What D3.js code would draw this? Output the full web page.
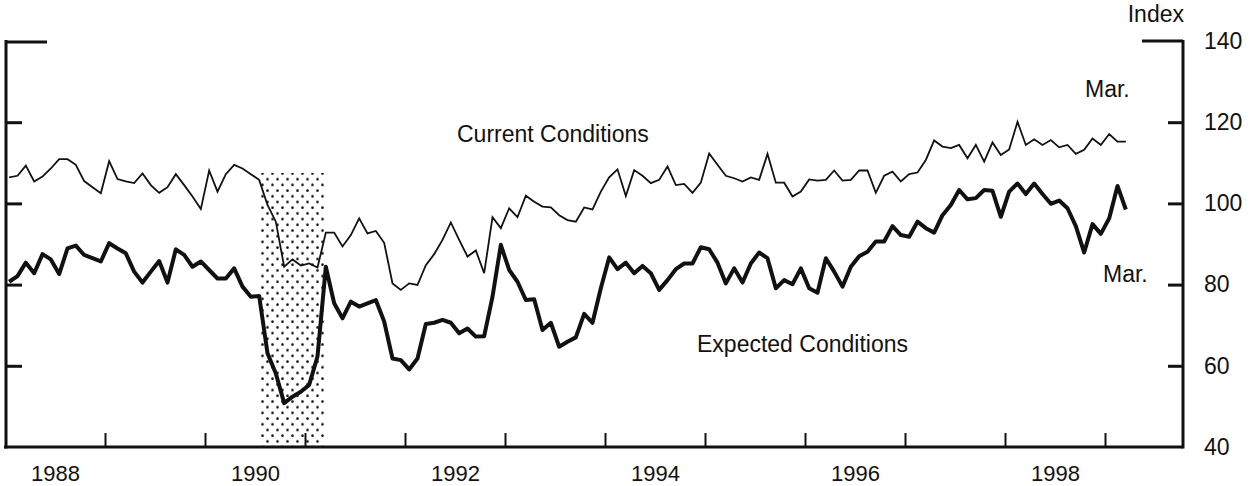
<!DOCTYPE html>
<meta charset="utf-8">

<script src="https://d3js.org/d3.v7.min.js"></script>

<style type="text/css">

body {
  margin: 0;
  background: white;
}

text {
  font-family: "Liberation Sans", Arial, Helvetica, sans-serif;
  fill: #111;
}

.axis path {
  display: none;
}

.axis line {
  stroke: #111;
  stroke-width: 3px;
}

.axis text {
  font-size: 23px;
}

.yearLabels text {
  font-size: 22px;
}

.frame {
  stroke: #111;
  stroke-width: 3px;
  fill: none;
}

.seriesLabel {
  font-size: 23px;
}

</style>

<body>
  <div id="chart"></div>
</body>

<script>

  // ---------------------------//
  //            DATA            //
  // ---------------------------//

  // monthly, Jan 1988 .. Mar 1999
  const startYear = 1988
  const currentValues = [
    106.4, 106.8, 109.3, 105.4, 106.6, 108.6, 110.9, 110.9, 109.5, 105.5, 104.0, 102.5,
    110.4, 106.0, 105.4, 105.0, 107.4, 104.5, 102.6, 104.0, 107.2, 104.5, 101.7, 98.6,
    108.1, 102.9, 107.2, 109.5, 108.6, 107.2, 105.8, 99.6, 95.5, 84.4, 86.2, 84.7,
    85.2, 84.2, 92.8, 92.8, 89.4, 92.2, 96.3, 92.6, 93.2, 90.3, 80.3, 78.7,
    80.3, 79.9, 84.8, 87.5, 91.0, 95.3, 91.0, 86.9, 88.4, 82.8, 96.6, 93.9,
    98.8, 96.6, 101.9, 100.4, 99.2, 99.0, 97.1, 95.9, 95.5, 99.0, 98.5, 102.9,
    106.4, 108.4, 101.8, 108.2, 106.8, 105.0, 105.8, 109.1, 104.5, 104.8, 102.6, 105.1,
    112.3, 109.5, 106.8, 106.2, 105.4, 106.4, 105.8, 112.2, 105.1, 105.1, 101.7, 102.9,
    105.9, 105.6, 105.8, 108.1, 105.6, 105.8, 108.1, 108.1, 102.6, 106.8, 107.8, 105.4,
    107.2, 107.6, 110.7, 115.5, 114.0, 113.6, 114.4, 111.1, 114.4, 110.3, 115.0, 111.9,
    113.3, 120.1, 114.4, 115.8, 114.4, 115.6, 113.8, 114.4, 112.2, 113.2, 116.0, 114.4,
    117.1, 115.2, 115.2
  ]
  const expectedValues = [
    80.7, 82.1, 85.4, 82.8, 87.5, 86.2, 82.6, 88.9, 89.6, 87.3, 86.5, 85.7,
    90.2, 88.9, 87.7, 83.2, 80.5, 83.2, 85.8, 80.5, 88.7, 87.3, 84.4, 85.7,
    83.6, 81.5, 81.5, 84.0, 79.5, 77.0, 77.2, 63.1, 58.1, 50.8, 52.4, 53.6,
    55.3, 62.3, 84.4, 75.4, 71.7, 75.8, 74.6, 75.4, 76.2, 70.9, 61.8, 61.4,
    59.1, 61.8, 70.3, 70.6, 71.3, 70.6, 68.0, 69.2, 67.2, 67.3, 77.0, 89.8,
    83.6, 80.7, 76.2, 76.4, 68.8, 70.6, 64.7, 65.9, 67.0, 72.8, 70.6, 79.1,
    86.7, 83.8, 85.4, 82.8, 84.6, 82.8, 78.7, 81.1, 83.8, 85.2, 85.2, 89.2,
    88.7, 85.4, 80.3, 84.0, 80.5, 85.2, 87.9, 86.5, 79.1, 81.1, 80.1, 84.0,
    79.1, 78.0, 86.5, 83.2, 79.5, 84.4, 87.0, 88.1, 90.6, 90.6, 94.4, 92.2,
    91.8, 95.5, 93.9, 92.8, 97.1, 99.6, 103.3, 101.0, 101.3, 103.3, 103.1, 96.7,
    102.9, 104.9, 102.3, 104.9, 102.3, 99.9, 100.7, 98.8, 94.4, 87.9, 94.9, 92.5,
    96.3, 104.3, 98.5
  ]

  // recession: Jul 1990 .. Mar 1991 (month index from Jan 1988)
  const recessionMonths = [30, 38]
  const recessionTop = 107.5

  const yearTicks = [1989, 1990, 1991, 1992, 1993, 1994, 1995, 1996, 1997, 1998, 1999]
  const yearLabels = [1988, 1990, 1992, 1994, 1996, 1998]
  const indexTicks = [40, 60, 80, 100, 120, 140]
  const innerTicks = [60, 80, 100, 120]

  // ---------------------------//
  //         SETUP              //
  // ---------------------------//

  const outerWidth = 1260
  const outerHeight = 486
  const plotLeft = 6
  const plotRight = 1183
  const plotTop = 41
  const plotBottom = 447

  const SVG = d3.select("#chart").append("svg")
    .attr("width", outerWidth)
    .attr("height", outerHeight)

  const x = d3.scaleLinear()
    .domain([1988, 1999])
    .range([5, 1105])

  const y = d3.scaleLinear()
    .domain([40, 140])
    .range([plotBottom, plotTop])

  const monthPos = (i) => x(startYear + (i + 0.5) / 12)

  // dotted fill for the recession band
  const defs = SVG.append("defs")
  const pattern = defs.append("pattern")
    .attr("id", "dots")
    .attr("patternUnits", "userSpaceOnUse")
    .attr("width", 10)
    .attr("height", 11.4)
  pattern.append("circle").attr("cx", 2.5).attr("cy", 2.5).attr("r", 1.3).attr("fill", "#111")
  pattern.append("circle").attr("cx", 7.5).attr("cy", 8.2).attr("r", 1.3).attr("fill", "#111")

  SVG.append("rect")
    .attr("x", monthPos(recessionMonths[0]))
    .attr("y", y(recessionTop))
    .attr("width", monthPos(recessionMonths[1]) - monthPos(recessionMonths[0]))
    .attr("height", y(40) - y(recessionTop))
    .attr("fill", "url(#dots)")

  // ---------------------------//
  //         AXES               //
  // ---------------------------//

  // bottom ticks at year boundaries
  SVG.append("g")
    .attr("class", "axis")
    .attr("transform", "translate(0," + plotBottom + ")")
    .call(d3.axisBottom(x).tickValues(yearTicks).tickSizeInner(-14).tickSizeOuter(0).tickFormat(""))
    .selectAll("line").style("stroke-width", "2px")

  // year labels centred in the year
  SVG.append("g")
    .attr("class", "axis yearLabels")
    .attr("transform", "translate(0," + plotBottom + ")")
    .call(d3.axisBottom(x).tickValues(yearLabels.map(d => d + 0.5)).tickSize(0).tickPadding(18)
      .tickFormat(d => Math.floor(d)))

  // left axis, ticks only
  const leftAxis = SVG.append("g")
    .attr("class", "axis")
    .attr("transform", "translate(" + plotLeft + ",0)")
    .call(d3.axisLeft(y).tickValues(innerTicks).tickSize(-16).tickFormat(""))

  // right axis with labels
  const rightAxis = SVG.append("g")
    .attr("class", "axis")
    .attr("transform", "translate(" + plotRight + ",0)")
    .call(d3.axisRight(y).tickValues(indexTicks).tickSize(0).tickPadding(21))
  rightAxis.selectAll(".tick line").remove()
  SVG.append("g")
    .attr("class", "axis")
    .attr("transform", "translate(" + plotRight + ",0)")
    .call(d3.axisRight(y).tickValues(innerTicks).tickSize(-15).tickFormat(""))

  // frame: sides, bottom and the two top brackets
  SVG.append("line").attr("class", "frame")
    .attr("x1", plotLeft).attr("x2", plotLeft).attr("y1", y(140) - 1).attr("y2", plotBottom + 1.5)
  SVG.append("line").attr("class", "frame")
    .attr("x1", plotRight).attr("x2", plotRight).attr("y1", y(140) - 1).attr("y2", plotBottom + 1.5)
  SVG.append("line").attr("class", "frame")
    .attr("x1", 4).attr("x2", plotRight).attr("y1", plotBottom).attr("y2", plotBottom)
  SVG.append("line").attr("class", "frame")
    .attr("x1", plotLeft).attr("x2", 47).attr("y1", y(140) + 1).attr("y2", y(140) + 1)
  SVG.append("line").attr("class", "frame")
    .attr("x1", 1142).attr("x2", plotRight).attr("y1", y(140)).attr("y2", y(140))

  SVG.append("text")
    .attr("x", plotRight + 1)
    .attr("y", 22)
    .attr("text-anchor", "end")
    .classed("seriesLabel", true)
    .text("Index")

  // ---------------------------//
  //         LINES              //
  // ---------------------------//

  const line = d3.line()
    .x((d, i) => monthPos(i))
    .y(d => y(d))

  SVG.append("path")
    .datum(currentValues)
    .attr("d", line)
    .attr("fill", "none")
    .attr("stroke", "#111")
    .attr("stroke-width", 1.8)
    .attr("stroke-linejoin", "miter")

  SVG.append("path")
    .datum(expectedValues)
    .attr("d", line)
    .attr("fill", "none")
    .attr("stroke", "#111")
    .attr("stroke-width", 4)
    .attr("stroke-linejoin", "round")

  // labels
  SVG.append("text")
    .attr("x", 457).attr("y", 142)
    .classed("seriesLabel", true)
    .text("Current Conditions")

  SVG.append("text")
    .attr("x", 697).attr("y", 352)
    .classed("seriesLabel", true)
    .text("Expected Conditions")

  SVG.append("text")
    .attr("x", 1085).attr("y", 97)
    .classed("seriesLabel", true)
    .text("Mar.")

  SVG.append("text")
    .attr("x", 1103).attr("y", 282)
    .classed("seriesLabel", true)
    .text("Mar.")

</script>
